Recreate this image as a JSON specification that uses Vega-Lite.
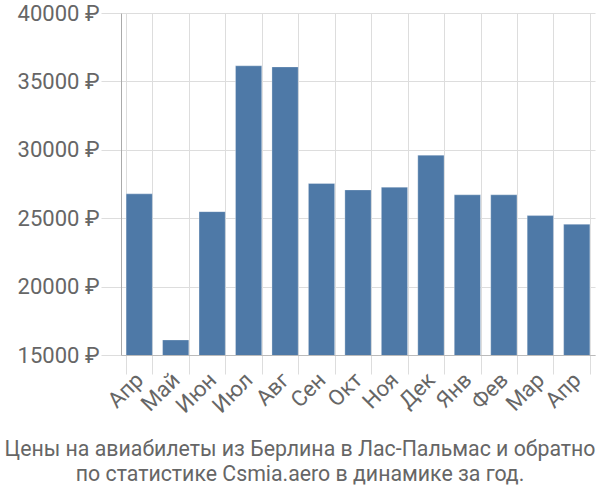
{
  "$schema": "https://vega.github.io/schema/vega-lite/v6.json",
  "width": 600,
  "height": 500,
  "autosize": {"type": "fit", "contains": "padding"},
  "padding": {"top": 2, "right": 5, "left": 17, "bottom": 15},
  "background": "white",
  "config": {"font": "Roboto", "view": {"stroke": null}},
  "title": {
    "text": ["Цены на авиабилеты из Берлина в Лас-Пальмас и обратно", "по статистике Csmia.aero в динамике за год."],
    "orient": "bottom",
    "anchor": "middle",
    "frame": "bounds",
    "fontSize": 21.3,
    "fontWeight": "normal",
    "color": "#666666",
    "lineHeight": 25,
    "offset": 22,
    "dx": -6
  },
  "data": {
    "values": [
      {"key": "Апр-1", "price": 26780},
      {"key": "Май-2", "price": 16100},
      {"key": "Июн-3", "price": 25480},
      {"key": "Июл-4", "price": 36140},
      {"key": "Авг-5", "price": 36060},
      {"key": "Сен-6", "price": 27540},
      {"key": "Окт-7", "price": 27070},
      {"key": "Ноя-8", "price": 27270},
      {"key": "Дек-9", "price": 29610},
      {"key": "Янв-10", "price": 26710},
      {"key": "Фев-11", "price": 26710},
      {"key": "Мар-12", "price": 25190},
      {"key": "Апр-13", "price": 24560}
    ]
  },
  "mark": {"type": "bar", "color": "#4e79a7", "stroke": "#ffffff", "strokeOpacity": 0.3, "strokeWidth": 1, "clip": true},
  "encoding": {
    "x": {
      "field": "key",
      "type": "nominal",
      "sort": null,
      "scale": {"paddingInner": 0.28, "paddingOuter": 0.14},
      "axis": {
        "title": null,
        "labelAngle": -45,
        "labelAlign": "right",
        "labelBaseline": "middle",
        "labelFontSize": 22,
        "labelColor": "#666666",
        "labelExpr": "isValid(datum.value) ? split(datum.value, '-')[0] : ''",
        "tickBand": "extent",
        "grid": true,
        "gridColor": "#dddddd",
        "tickColor": "#dddddd",
        "tickSize": 19,
        "domainColor": "#bbbbbb",
        "labelPadding": 2
      }
    },
    "y": {
      "field": "price",
      "type": "quantitative",
      "scale": {"domain": [15000, 40000], "zero": false, "nice": false},
      "axis": {
        "title": null,
        "values": [15000, 20000, 25000, 30000, 35000, 40000],
        "labelExpr": "datum.value + ' ₽'",
        "labelFontSize": 22,
        "labelColor": "#666666",
        "gridColor": "#dddddd",
        "tickColor": "#dddddd",
        "tickSize": 20,
        "domainColor": "#aaaaaa",
        "labelPadding": 2
      }
    }
  }
}
